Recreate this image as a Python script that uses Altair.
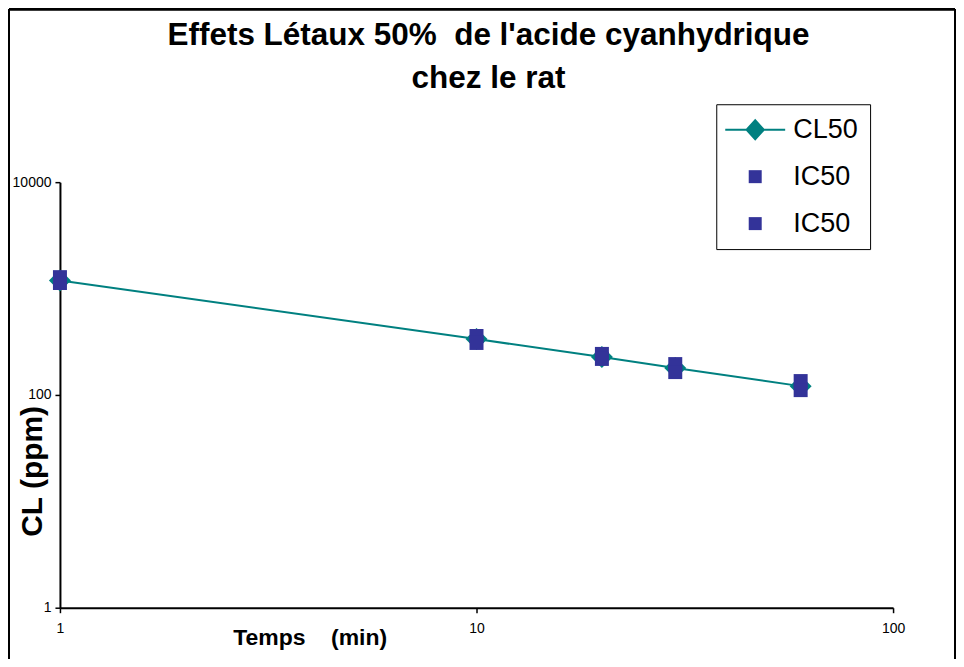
import altair as alt
import pandas as pd

# ---- data ----
temps = [1, 10, 20, 30, 60]                  # minutes
cl50 = [1190, 335, 227, 179, 121]            # ppm (diamonds + line)
ic50_a = [1280, 358, 243, 195, 135]          # ppm (squares, series 1)
ic50_b = [1127, 308, 218, 164, 111]          # ppm (squares, series 2)

series_domain = ["CL50", "IC50", "IC50b"]
series_colors = ["#008080", "#333399", "#333399"]

x_ticks = [1, 10, 100]
y_ticks = [1, 100, 10000]

title_lines = ["Effets Létaux 50%\u00a0 de l'acide cyanhydrique", "chez le rat"]
x_title = "Temps\u00a0\u00a0\u00a0\u00a0(min)"
y_title = "CL (ppm)"

FONT = "Liberation Sans"
TEAL = "#008080"

cl_df = pd.DataFrame({"t": temps, "v": cl50})
ic_df = pd.concat([
    pd.DataFrame({"t": temps, "v": ic50_a, "series": "IC50"}),
    pd.DataFrame({"t": temps, "v": ic50_b, "series": "IC50b"}),
], ignore_index=True)

# legend symbol for CL50: diamond with a line through it (filled path)
cl_symbol = ("M-4.615,-0.154L-1.2,-0.154L-1.2,0.154L-4.615,0.154Z "
             "M1.2,-0.154L4.615,-0.154L4.615,0.154L1.2,0.154Z "
             "M0,-1.692L1.538,0L0,1.692L-1.538,0Z")
series_shapes = [cl_symbol, "square", "square"]

W, H = 834, 426

x_enc = alt.X(
    "t:Q",
    scale=alt.Scale(type="log", domain=[1, 100], nice=False),
    axis=alt.Axis(
        values=x_ticks, format="d", grid=False,
        domainColor="black", domainWidth=2, tickColor="black", tickWidth=1.5,
        tickSize=5, labelFontSize=14, labelFont=FONT, labelColor="black",
        labelPadding=9, labelFlush=False,
        title=x_title, titleFont=FONT, titleFontSize=23, titleFontWeight="bold",
        titleColor="black", titleX=250, titleY=30, titleBaseline="middle",
        titleAlign="center",
    ),
)
y_enc = alt.Y(
    "v:Q",
    scale=alt.Scale(type="log", domain=[1, 10000], nice=False),
    axis=alt.Axis(
        values=y_ticks, format="d", grid=False,
        domainColor="black", domainWidth=2, tickColor="black", tickWidth=1.5,
        tickSize=5, labelFontSize=14, labelFont=FONT, labelColor="black",
        labelPadding=4, labelFlush=False,
        title=y_title, titleFont=FONT, titleFontSize=30, titleFontWeight="bold",
        titleColor="black", titleX=-27, titleY=289, titleAngle=270,
        titleBaseline="middle", titleAlign="center",
    ),
)

legend = alt.Legend(
    title=None, orient="none", legendX=657, legendY=-78,
    padding=12, strokeColor="black", fillColor="white",
    symbolSize=169, symbolStrokeWidth=0, symbolOffset=13.5,
    labelOffset=24.5, labelFontSize=27, labelFont=FONT, labelColor="black",
    rowPadding=19,
    labelExpr="datum.label == 'IC50b' ? 'IC50' : datum.label",
)

frame_left = alt.Chart(cl_df).mark_rule(color="black", strokeWidth=2).encode(
    x=alt.value(-51), y=alt.value(-173), y2=alt.value(477))
frame_top = alt.Chart(cl_df).mark_rule(color="black", strokeWidth=2).encode(
    x=alt.value(-51), x2=alt.value(896), y=alt.value(-173))
frame_right = alt.Chart(cl_df).mark_rule(color="black", strokeWidth=2).encode(
    x=alt.value(896), y=alt.value(-173), y2=alt.value(477))

line = alt.Chart(cl_df).mark_line(color=TEAL, strokeWidth=2).encode(x=x_enc, y=y_enc)
diamonds = alt.Chart(cl_df).mark_point(
    shape="diamond", filled=True, size=484, color=TEAL, opacity=1
).encode(x=x_enc, y=y_enc)
squares = alt.Chart(ic_df).mark_point(filled=True, size=196, opacity=1).encode(
    x=x_enc, y=y_enc,
    color=alt.Color("series:N", scale=alt.Scale(domain=series_domain, range=series_colors), legend=legend),
    shape=alt.Shape("series:N", scale=alt.Scale(domain=series_domain, range=series_shapes), legend=legend),
)

chart = alt.layer(frame_left, frame_top, frame_right, line, diamonds, squares).properties(
    width=W, height=H, padding=0, background="white",
    title=alt.TitleParams(
        text=title_lines, font=FONT, fontSize=31.5, fontWeight="bold", color="black",
        anchor="middle", frame="group", dx=12, offset=-86, lineHeight=43,
    ),
).configure(
    font=FONT,
    view=alt.ViewConfig(stroke="transparent", strokeWidth=0),
)

chart.save("out.html", embed_options={"renderer": "svg", "actions": False})
